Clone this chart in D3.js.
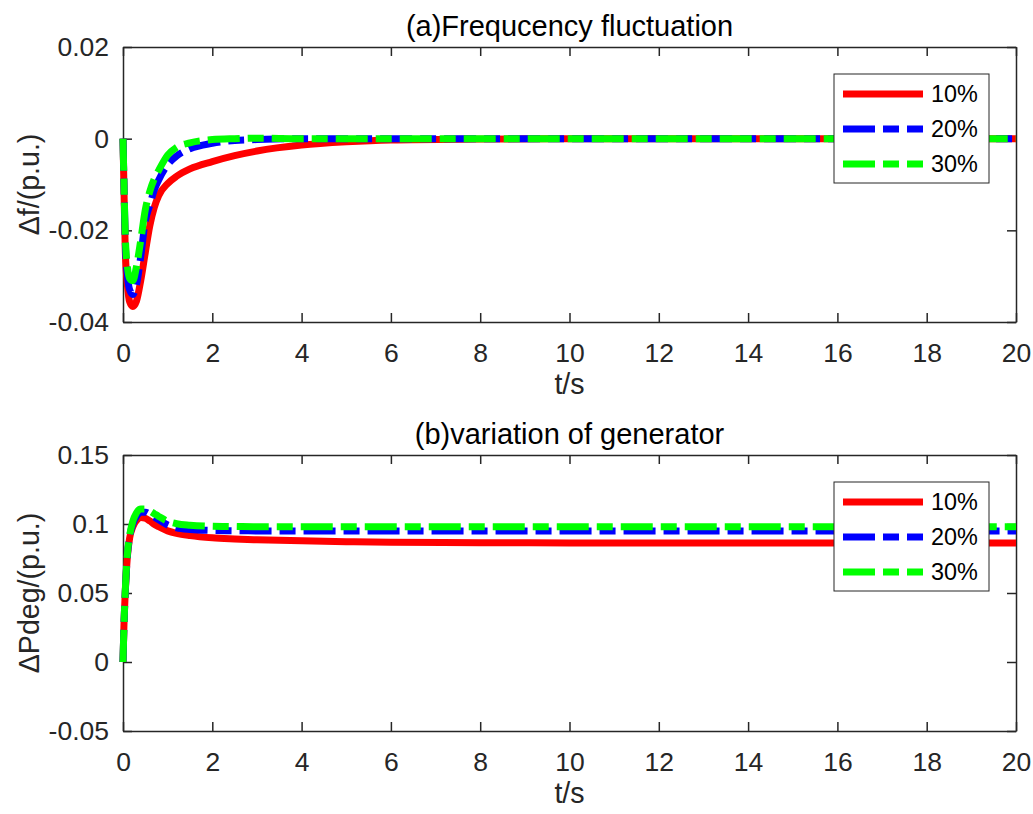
<!DOCTYPE html>
<html>
<head>
<meta charset="utf-8">
<script src="https://cdn.jsdelivr.net/npm/d3@7"></script>
<style>
  body { margin: 0; background: #fff; }
  svg { font-family: "Liberation Sans", Arial, sans-serif; }
</style>
</head>
<body>
<script>
// Size of the page
const w = 1033;
const h = 814;

// time samples (s)
const time = [0, 0.02, 0.05, 0.1, 0.15, 0.22, 0.3, 0.4, 0.5, 0.6, 0.7, 0.8, 1.0, 1.2, 1.5, 2, 2.5, 3, 4, 5, 6, 8, 10, 14, 20];

// (a) frequency deviation
const freq10 = [0, -0.010, -0.024, -0.032, -0.0356, -0.0366, -0.0355, -0.0308, -0.0248, -0.019, -0.0150, -0.0124, -0.0098, -0.0082, -0.0066, -0.0050, -0.0037, -0.0027, -0.0014, -0.0007, -0.0003, -0.0001, 0, 0, 0];
const freq20 = [0, -0.009, -0.022, -0.030, -0.0330, -0.0340, -0.0320, -0.0255, -0.018, -0.0145, -0.0112, -0.009, -0.0057, -0.0038, -0.0022, -0.0010, -0.0004, -0.0002, 0, 0, 0, 0, 0, 0, 0];
const freq30 = [0, -0.009, -0.021, -0.028, -0.0305, -0.0310, -0.028, -0.022, -0.0155, -0.0115, -0.0088, -0.0069, -0.0036, -0.0019, -0.0009, -0.0002, 0, 0.0001, 0, 0, 0, 0, 0, 0, 0];

// (b) generator power variation
const gen10 = [0, 0.025, 0.050, 0.077, 0.090, 0.098, 0.1025, 0.1048, 0.1042, 0.1022, 0.0998, 0.098, 0.0950, 0.0932, 0.0916, 0.0900, 0.0892, 0.0886, 0.0878, 0.0872, 0.0868, 0.0865, 0.0863, 0.0862, 0.0862];
const gen20 = [0, 0.025, 0.050, 0.078, 0.091, 0.100, 0.1055, 0.1085, 0.1085, 0.1070, 0.1050, 0.1030, 0.0993, 0.0972, 0.0960, 0.0953, 0.0951, 0.095, 0.095, 0.095, 0.095, 0.095, 0.095, 0.095, 0.095];
const gen30 = [0, 0.025, 0.051, 0.079, 0.092, 0.102, 0.108, 0.1108, 0.1108, 0.1095, 0.1075, 0.1055, 0.1020, 0.1002, 0.0991, 0.0984, 0.0982, 0.098, 0.098, 0.098, 0.098, 0.098, 0.098, 0.098, 0.098];

// ticks and labels
const xTicks = [0, 2, 4, 6, 8, 10, 12, 14, 16, 18, 20];
const freqTicks = [-0.04, -0.02, 0, 0.02];
const genTicks = [-0.05, 0, 0.05, 0.1, 0.15];
const seriesNames = ['10%', '20%', '30%'];

const colors = ['#ff0000', '#0000ff', '#00ff00'];
const dashes = [null, '32,8,16,8', '32,8,16,8'];

const svg = d3.select('body')
  .append('svg')
  .attr('width', w)
  .attr('height', h);

const xL = 123, xR = 1016;

function drawPanel(top, bottom, yDomain, yTicks, series, title, ylabel) {
  const x = d3.scaleLinear().domain([0, 20]).range([xL, xR]);
  const y = d3.scaleLinear().domain(yDomain).range([bottom, top]);
  const fmt = d => String(+d.toFixed(3));
  const g = svg.append('g');

  // the four sides with inward ticks
  g.append('g').attr('transform', `translate(0,${bottom})`)
    .call(d3.axisBottom(x).tickValues(xTicks).tickFormat(fmt).tickSizeInner(-9).tickSizeOuter(0).tickPadding(21));
  g.append('g').attr('transform', `translate(0,${top})`)
    .call(d3.axisTop(x).tickValues(xTicks).tickFormat('').tickSizeInner(-9).tickSizeOuter(0));
  g.append('g').attr('transform', `translate(${xL},0)`)
    .call(d3.axisLeft(y).tickValues(yTicks).tickFormat(fmt).tickSizeInner(-9).tickSizeOuter(0).tickPadding(14));
  g.append('g').attr('transform', `translate(${xR},0)`)
    .call(d3.axisRight(y).tickValues(yTicks).tickFormat('').tickSizeInner(-9).tickSizeOuter(0));

  g.selectAll('.domain, .tick line').attr('stroke', '#262626').attr('stroke-width', 1.5);
  g.selectAll('.tick text').attr('fill', '#262626').style('font-size', '26.5px');

  // curves
  const line = d3.line()
    .x((d, i) => x(time[i]))
    .y(d => y(d))
    .curve(d3.curveMonotoneX);
  series.forEach((s, k) => {
    g.append('path')
      .attr('d', line(s))
      .attr('fill', 'none')
      .attr('stroke', colors[k])
      .attr('stroke-width', 7)
      .attr('stroke-dasharray', dashes[k]);
  });

  // title and axis labels
  g.append('text')
    .attr('x', (xL + xR) / 2).attr('y', top - 11)
    .attr('text-anchor', 'middle')
    .style('font-size', '29px')
    .attr('fill', '#000')
    .text(title);
  g.append('text')
    .attr('x', (xL + xR) / 2).attr('y', bottom + 72)
    .attr('text-anchor', 'middle')
    .style('font-size', '28.6px')
    .attr('fill', '#262626')
    .text('t/s');
  g.append('text')
    .attr('transform', `translate(39,${(top + bottom) / 2}) rotate(-90)`)
    .attr('text-anchor', 'middle')
    .style('font-size', '28.6px')
    .attr('fill', '#262626')
    .text(ylabel);

  // legend
  const lx = xR - 27 - 155, ly = top + 27;
  const leg = g.append('g').attr('transform', `translate(${lx},${ly})`);
  leg.append('rect')
    .attr('width', 155).attr('height', 109)
    .attr('fill', '#fff')
    .attr('stroke', '#262626').attr('stroke-width', 1);
  seriesNames.forEach((name, k) => {
    const cy = 20 + k * 35;
    leg.append('line')
      .attr('x1', 9).attr('x2', 89)
      .attr('y1', cy).attr('y2', cy)
      .attr('stroke', colors[k])
      .attr('stroke-width', 7)
      .attr('stroke-dasharray', dashes[k]);
    leg.append('text')
      .attr('x', 97).attr('y', cy)
      .attr('dy', '0.35em')
      .style('font-size', '23.4px')
      .attr('fill', '#000')
      .text(name);
  });
}

drawPanel(47, 322, [-0.04, 0.02], freqTicks, [freq10, freq20, freq30],
  '(a)Frequcency fluctuation', 'Δf/(p.u.)');
drawPanel(455, 731, [-0.05, 0.15], genTicks, [gen10, gen20, gen30],
  '(b)variation of generator', 'ΔPdeg/(p.u.)');
</script>
</body>
</html>
